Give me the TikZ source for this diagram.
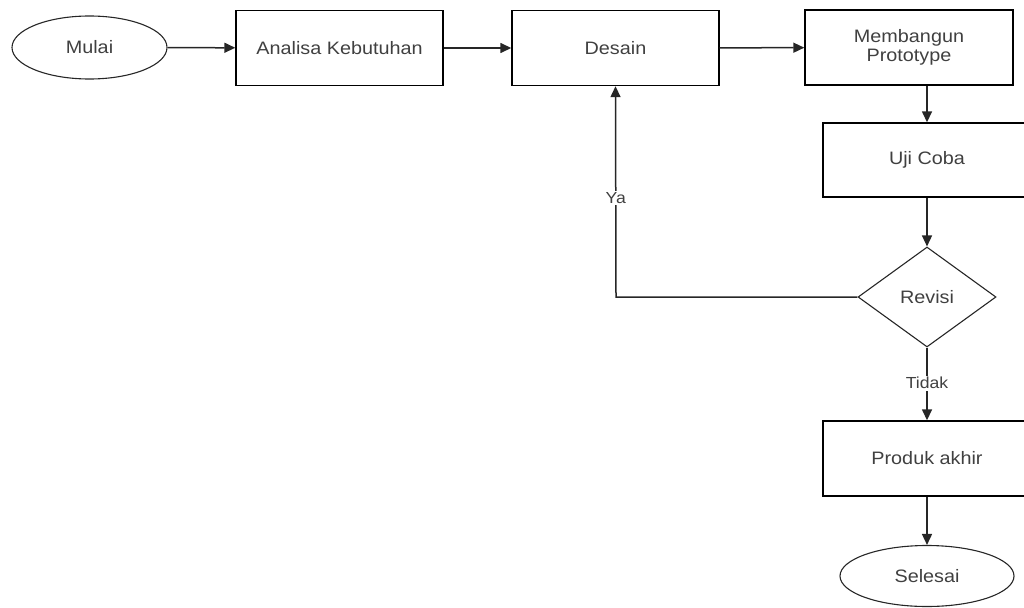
\documentclass[tikz,border=0pt]{standalone}
\usepackage{fontspec}
\setmainfont{Liberation Sans}[FakeStretch=1.1]
\usetikzlibrary{shapes.geometric,arrows.meta}
\begin{document}
\begin{tikzpicture}[x=1pt,y=-1pt,
  every node/.style={font=\fontsize{18}{19}\selectfont, text=black!75},
  box/.style={draw=black, line width=1.4pt, rectangle, minimum width=207pt, minimum height=75pt, inner sep=0pt, align=center},
  term/.style={draw=black!85, line width=1.1pt, ellipse, inner sep=0pt},
  dec/.style={draw=black!85, line width=1.1pt, diamond, minimum width=138pt, minimum height=100pt, inner sep=0pt, aspect=1.38},
  conn/.style={draw=black!85, line width=1.5pt, -{Triangle[length=11pt,width=10pt]}},
  lbl/.style={fill=white, inner sep=1.5pt, font=\fontsize{16}{17}\selectfont}
]
\useasboundingbox (0,0) rectangle (1024,607);
\clip (0,0) rectangle (1024,607);
\node[term, minimum width=155pt, minimum height=63pt] (mulai) at (89.5,47.5) {Mulai};
\node[box] (analisa) at (339.5,48) {Analisa Kebutuhan};
\node[box] (desain) at (615.5,48) {Desain};
\node[box, minimum width=208pt] (bangun) at (909,47.5) {Membangun\\Prototype};
\node[box, minimum width=208pt, minimum height=74pt] (uji) at (927,160) {Uji Coba};
\node[dec] (revisi) at (927,297) {Revisi};
\node[box, minimum width=208pt] (produk) at (927,458.5) {Produk akhir};
\node[term, minimum width=174pt, minimum height=61pt] (selesai) at (927,576) {Selesai};
\coordinate (corner) at (616,297);
\draw[conn] (mulai) -- (analisa);
\draw[conn] (analisa) -- (desain);
\draw[conn] (desain) -- (bangun);
\draw[conn] (bangun.south -| uji) -- (uji);
\draw[conn] (uji) -- (revisi);
\draw[conn] (revisi) -- node[lbl, pos=0.49] {Tidak} (produk);
\draw[conn] (produk) -- (selesai);
\draw[conn] (revisi.west) -- (corner) -- node[lbl, pos=0.47] {Ya} (desain.south);
\end{tikzpicture}
\end{document}
